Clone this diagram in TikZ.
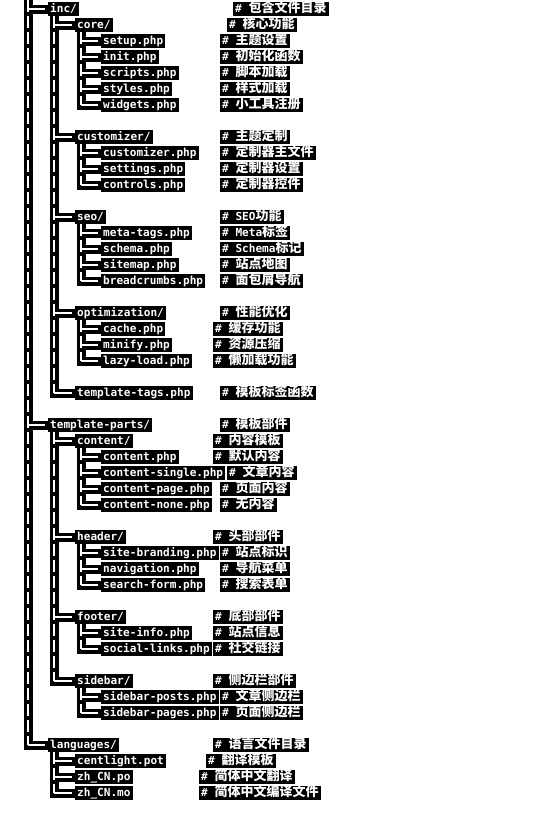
\documentclass[tikz,border=0pt]{standalone}
\usepackage{fontspec}
\setmonofont{DejaVu Sans Mono}
\newfontfamily\cjkfont{Noto Sans CJK SC}
\newcommand{\zh}[1]{{\cjkfont\bfseries\fontsize{13}{13}\selectfont #1}}

\tikzset{
  file/.style={anchor=west,fill=black,text=white,inner xsep=2pt,inner ysep=1.5pt,yshift=-2pt,
    text height=8.5pt,text depth=2.5pt,font=\ttfamily\bfseries\fontsize{11.07}{13}\selectfont},
  note/.style={file},
  bar/.style={line width=9pt,black},
  wire/.style={line width=1.6pt,white},
}

\begin{document}
\begin{tikzpicture}[x=1pt,y=-1pt]
    \useasboundingbox (0,0) rectangle (552,814);
    \coordinate (root-t) at (28,0);

    % inc/
    \node[file] (inc) at (48,7) {inc/};
    \node[note] (inc-n) at (233,7) {\# \zh{包含文件目录}};
    \node[file] (core) at (75,23) {core/};
    \node[note] (core-n) at (227,23) {\# \zh{核心功能}};
    \node[file] (setup) at (101,39) {setup.php};
    \node[note] (setup-n) at (220,39) {\# \zh{主题设置}};
    \node[file] (init) at (101,55) {init.php};
    \node[note] (init-n) at (220,55) {\# \zh{初始化函数}};
    \node[file] (scripts) at (101,71) {scripts.php};
    \node[note] (scripts-n) at (220,71) {\# \zh{脚本加载}};
    \node[file] (styles) at (101,87) {styles.php};
    \node[note] (styles-n) at (220,87) {\# \zh{样式加载}};
    \node[file] (widgets) at (101,103) {widgets.php};
    \node[note] (widgets-n) at (220,103) {\# \zh{小工具注册}};

    \node[file] (customizer) at (75,135) {customizer/};
    \node[note] (customizer-n) at (220,135) {\# \zh{主题定制}};
    \node[file] (custphp) at (101,151) {customizer.php};
    \node[note] (custphp-n) at (220,151) {\# \zh{定制器主文件}};
    \node[file] (settings) at (101,167) {settings.php};
    \node[note] (settings-n) at (220,167) {\# \zh{定制器设置}};
    \node[file] (controls) at (101,183) {controls.php};
    \node[note] (controls-n) at (220,183) {\# \zh{定制器控件}};

    \node[file] (seo) at (75,215) {seo/};
    \node[note] (seo-n) at (220,215) {\# SEO\zh{功能}};
    \node[file] (metatags) at (101,231) {meta-tags.php};
    \node[note] (metatags-n) at (220,231) {\# Meta\zh{标签}};
    \node[file] (schema) at (101,247) {schema.php};
    \node[note] (schema-n) at (220,247) {\# Schema\zh{标记}};
    \node[file] (sitemap) at (101,263) {sitemap.php};
    \node[note] (sitemap-n) at (220,263) {\# \zh{站点地图}};
    \node[file] (breadcrumbs) at (101,279) {breadcrumbs.php};
    \node[note] (breadcrumbs-n) at (220,279) {\# \zh{面包屑导航}};

    \node[file] (optimization) at (75,311) {optimization/};
    \node[note] (optimization-n) at (220,311) {\# \zh{性能优化}};
    \node[file] (cache) at (101,327) {cache.php};
    \node[note] (cache-n) at (213,327) {\# \zh{缓存功能}};
    \node[file] (minify) at (101,343) {minify.php};
    \node[note] (minify-n) at (213,343) {\# \zh{资源压缩}};
    \node[file] (lazyload) at (101,359) {lazy-load.php};
    \node[note] (lazyload-n) at (213,359) {\# \zh{懒加载功能}};

    \node[file] (templatetags) at (75,391) {template-tags.php};
    \node[note] (templatetags-n) at (220,391) {\# \zh{模板标签函数}};

    % template-parts/
    \node[file] (templateparts) at (48,423) {template-parts/};
    \node[note] (templateparts-n) at (220,423) {\# \zh{模板部件}};
    \node[file] (content) at (75,439) {content/};
    \node[note] (content-n) at (213,439) {\# \zh{内容模板}};
    \node[file] (contentphp) at (101,455) {content.php};
    \node[note] (contentphp-n) at (213,455) {\# \zh{默认内容}};
    \node[file] (contentsingle) at (101,471) {content-single.php};
    \node[note] (contentsingle-n) at (227,471) {\# \zh{文章内容}};
    \node[file] (contentpage) at (101,487) {content-page.php};
    \node[note] (contentpage-n) at (220,487) {\# \zh{页面内容}};
    \node[file] (contentnone) at (101,503) {content-none.php};
    \node[note] (contentnone-n) at (220,503) {\# \zh{无内容}};

    \node[file] (header) at (75,535) {header/};
    \node[note] (header-n) at (213,535) {\# \zh{头部部件}};
    \node[file] (sitebranding) at (101,551) {site-branding.php};
    \node[note] (sitebranding-n) at (220,551) {\# \zh{站点标识}};
    \node[file] (navigation) at (101,567) {navigation.php};
    \node[note] (navigation-n) at (220,567) {\# \zh{导航菜单}};
    \node[file] (searchform) at (101,583) {search-form.php};
    \node[note] (searchform-n) at (220,583) {\# \zh{搜索表单}};

    \node[file] (footer) at (75,615) {footer/};
    \node[note] (footer-n) at (213,615) {\# \zh{底部部件}};
    \node[file] (siteinfo) at (101,631) {site-info.php};
    \node[note] (siteinfo-n) at (213,631) {\# \zh{站点信息}};
    \node[file] (sociallinks) at (101,647) {social-links.php};
    \node[note] (sociallinks-n) at (213,647) {\# \zh{社交链接}};

    \node[file] (sidebar) at (75,679) {sidebar/};
    \node[note] (sidebar-n) at (213,679) {\# \zh{侧边栏部件}};
    \node[file] (sidebarposts) at (101,695) {sidebar-posts.php};
    \node[note] (sidebarposts-n) at (220,695) {\# \zh{文章侧边栏}};
    \node[file] (sidebarpages) at (101,711) {sidebar-pages.php};
    \node[note] (sidebarpages-n) at (220,711) {\# \zh{页面侧边栏}};

    % languages/
    \node[file] (languages) at (48,743) {languages/};
    \node[note] (languages-n) at (213,743) {\# \zh{语言文件目录}};
    \node[file] (centlight) at (75,759) {centlight.pot};
    \node[note] (centlight-n) at (206,759) {\# \zh{翻译模板}};
    \node[file] (zhpo) at (75,775) {zh\_CN.po};
    \node[note] (zhpo-n) at (199,775) {\# \zh{简体中文翻译}};
    \node[file] (zhmo) at (75,791) {zh\_CN.mo};
    \node[note] (zhmo-n) at (199,791) {\# \zh{简体中文编译文件}};

    % tree lines
    \foreach \p in {inc,core,customizer,seo,optimization,templateparts,content,header,footer,sidebar,languages}
        \coordinate (\p-t) at ([xshift=6pt]\p.south west);
    \foreach \p/\c in {root/inc,root/templateparts,root/languages,
        inc/core,inc/customizer,inc/seo,inc/optimization,inc/templatetags,
        core/setup,core/init,core/scripts,core/styles,core/widgets,
        customizer/custphp,customizer/settings,customizer/controls,
        seo/metatags,seo/schema,seo/sitemap,seo/breadcrumbs,
        optimization/cache,optimization/minify,optimization/lazyload,
        templateparts/content,templateparts/header,templateparts/footer,templateparts/sidebar,
        content/contentphp,content/contentsingle,content/contentpage,content/contentnone,
        header/sitebranding,header/navigation,header/searchform,
        footer/siteinfo,footer/sociallinks,
        sidebar/sidebarposts,sidebar/sidebarpages,
        languages/centlight,languages/zhpo,languages/zhmo}
        \draw[bar] (\p-t) |- (\c.west);
    \foreach \p/\c in {root/inc,root/templateparts,root/languages,
        inc/core,inc/customizer,inc/seo,inc/optimization,inc/templatetags,
        core/setup,core/init,core/scripts,core/styles,core/widgets,
        customizer/custphp,customizer/settings,customizer/controls,
        seo/metatags,seo/schema,seo/sitemap,seo/breadcrumbs,
        optimization/cache,optimization/minify,optimization/lazyload,
        templateparts/content,templateparts/header,templateparts/footer,templateparts/sidebar,
        content/contentphp,content/contentsingle,content/contentpage,content/contentnone,
        header/sitebranding,header/navigation,header/searchform,
        footer/siteinfo,footer/sociallinks,
        sidebar/sidebarposts,sidebar/sidebarpages,
        languages/centlight,languages/zhpo,languages/zhmo}
    {
        \draw[wire,dash pattern=on 12pt off 4pt] (\p-t) -- (\p-t |- \c.west);
        \draw[wire,shorten >=3pt] (\p-t |- \c.west) -- (\c.west);
    }
\end{tikzpicture}
\end{document}
